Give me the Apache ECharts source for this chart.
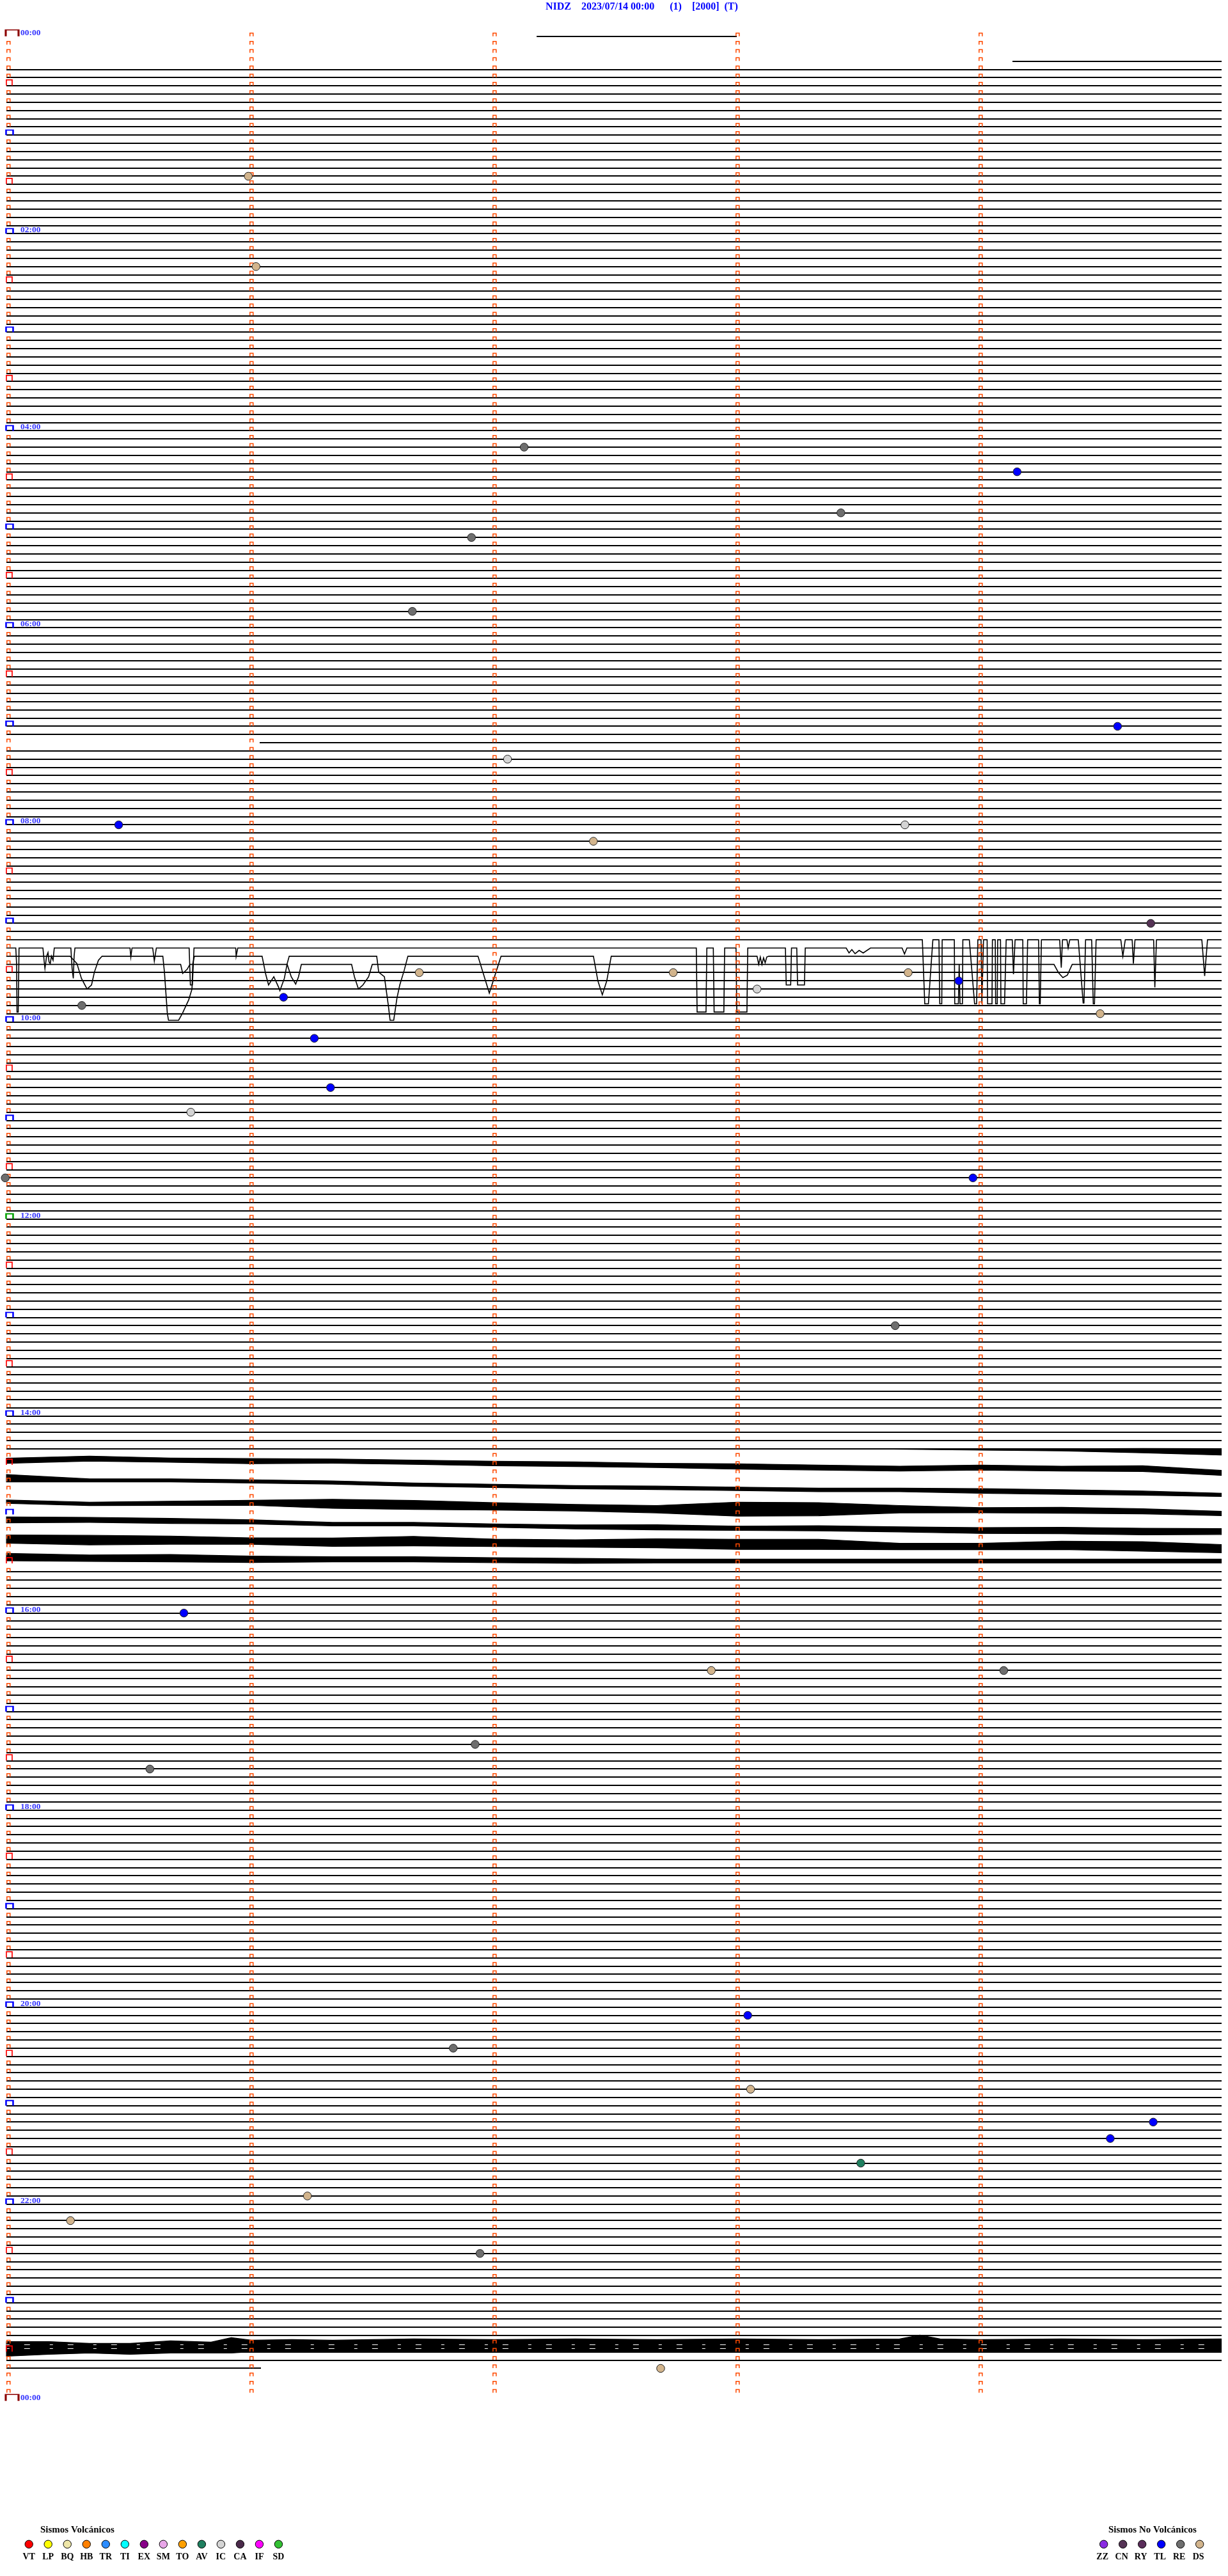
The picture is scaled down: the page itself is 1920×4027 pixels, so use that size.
<!DOCTYPE html>
<html>
<head>
<meta charset="utf-8">
<title>NIDZ helicorder</title>
<script src="https://cdn.jsdelivr.net/npm/echarts@6.0.0/dist/echarts.min.js"></script>
<style>
html,body{margin:0;padding:0;background:#ffffff;}
#chart{width:1920px;height:4027px;}
</style>
</head>
<body>
<div id="chart"></div>
<script>
// ---------------- DATA ----------------
const titleText = 'NIDZ    2023/07/14 00:00      (1)    [2000]  (T)';
const hourLabels = ['00:00','02:00','04:00','06:00','08:00','10:00','12:00','14:00','16:00','18:00','20:00','22:00','00:00'];
const hourLabelRows = [0,24,48,72,96,120,144,168,192,216,240,264,288];
const noonRow = 144;
// each row = 5 minutes (300 s); x value = seconds inside the row
const rowStartSec = -0.55;
const rowEndSec = 299.45;
const minuteMarkSec = [0,60,120,180,240];
// rows drawn as plain flat traces over the whole row
const fullRowRanges = [[4,85],[87,109],[114,172],[187,283]];
// partial rows: [row, startSec, endSec]
const partialRowSegments = [[0,130.3,179.8],[3,247.9,299.45],[86,62.0,299.45],[284,-0.55,62.3]];

// 09:10 - 09:25 saturated trace rows: [sec, downward displacement in rows]
const wave110 = [[-0.55,0],[225.6,0],[226.2,7.8],[227.1,7.8],[228.2,0],[229.7,0],[229.9,7.8],[230.4,7.8],[230.5,0],[233.5,0],[233.6,7.8],[234.5,7.8],[234.7,3],[234.9,7.8],[235.5,7.8],[235.6,0],[237.2,0],[238.5,7.8],[239.0,7.8],[239.3,0],[240.1,0],[240.3,7.8],[240.7,0],[241.6,0],[241.7,7.8],[242.8,7.8],[242.9,0],[243.6,0],[243.7,7.8],[244.1,7.8],[244.2,0],[244.9,0],[245.0,7.8],[245.9,7.8],[246.3,0],[247.8,0],[248.1,4.2],[248.5,0],[250.4,0],[250.5,7.8],[251.3,7.8],[251.6,0],[254.3,0],[254.5,7.8],[254.7,7.8],[255.0,0],[259.5,0],[259.9,3.4],[260.2,0],[261.3,0],[261.6,1.0],[262.0,0],[264.1,0],[265.3,7.7],[265.5,7.7],[265.9,0],[267.4,0],[267.8,7.8],[268.1,7.8],[268.5,0],[274.6,0],[275.1,2.0],[275.7,0],[277.4,0],[277.7,2.9],[278.1,0],[282.7,0],[283.0,5.8],[283.4,0],[294.6,0],[295.3,4.4],[296.0,0],[299.45,0]];
const wave111 = [[-0.55,0],[1.8,0],[2.0,2],[2.1,7.8],[2.4,7.8],[2.6,0],[8.5,0],[8.8,1.6],[9.0,2.5],[9.4,1.0],[9.75,0.55],[10.0,1.7],[10.3,1.9],[10.6,1.0],[11.0,1.5],[11.3,0],[15.4,0],[15.7,2.5],[16.0,3.7],[16.2,1.0],[16.4,0],[30.0,0],[30.2,1.1],[30.5,0],[35.6,0],[36.0,1.6],[36.5,0],[44.6,0],[44.9,4.5],[45.4,4.5],[45.8,0],[56.1,0],[56.2,1.0],[56.6,0],[169.8,0],[170.0,7.8],[172.2,7.8],[172.4,0],[174.0,0],[174.2,7.8],[176.6,7.8],[176.8,0],[179.6,0],[179.8,7.8],[182.3,7.8],[182.5,0],[191.8,0],[192.0,4.5],[193.1,4.5],[193.3,0],[194.6,0],[194.8,4.5],[196.5,4.5],[196.7,0],[206.8,0],[207.5,0.6],[208.2,0.2],[209.0,0.7],[210.0,0.3],[211.0,0.6],[212.8,0],[220.6,0],[221.2,0.73],[221.8,0],[299.45,0]];
const wave112 = [[-0.55,0],[15.2,0],[16.9,0.9],[18.0,2.7],[19.4,4.0],[20.5,3.5],[21.2,1.95],[22.2,0.5],[23.1,0],[38.1,0],[38.5,1.95],[39.2,6.9],[39.5,7.8],[42.0,7.8],[43.0,6.9],[44.5,5.3],[45.3,4.0],[45.5,0.9],[45.9,0],[62.6,0],[63.5,2.2],[64.2,3.5],[65.5,2.5],[66.7,3.8],[67.0,4.2],[68.1,2.7],[68.8,0.9],[69.3,0],[90.9,0],[91.4,1.95],[92.8,2.5],[93.8,6.1],[94.2,7.8],[95.1,7.8],[95.9,5.1],[96.6,3.5],[97.7,1.7],[98.6,0],[115.9,0],[118.7,4.5],[121.6,0],[144.4,0],[145.5,3.0],[146.6,4.7],[147.7,3.0],[148.8,0],[184.8,0],[185.2,1.0],[185.6,0.1],[186.0,1.0],[186.4,0.2],[186.8,0.8],[187.2,0.1],[187.7,0],[299.45,0]];
const wave113 = [[-0.55,0],[42.5,0],[43.0,1.1],[44.1,0.6],[44.8,0],[68.8,0],[69.8,1.5],[70.9,2.4],[71.6,1.5],[72.3,0],[84.7,0],[85.4,1.5],[86.4,3.0],[87.5,2.5],[88.9,1.5],[89.8,0],[258.1,0],[259.2,1.0],[260.3,1.6],[261.4,1.3],[262.6,0],[299.45,0]];
const waveRows = [110,111,112,113];

// 14:00 - 15:30 noisy traces: centre row and half thickness (rows) sampled along the row
const noiseSec14 = [-0.5,20,40,60,80,100,120,140,160,180,200,220,240,260,280,299.4];
const noiseAMid  = [173.45,173.19,173.38,173.50,173.50,173.63,173.79,173.87,174.02,174.15,174.28,174.41,174.28,174.41,174.41,174.93];
const noiseAHalf = [0.31,0.31,0.26,0.31,0.26,0.26,0.28,0.28,0.26,0.33,0.30,0.30,0.30,0.30,0.35,0.30];
const noiseBMid  = [175.58,175.84,175.84,175.97,176.10,176.36,176.51,176.67,176.75,176.88,177.00,177.00,177.13,177.26,177.39,177.60];
const noiseBHalf = [0.45,0.18,0.18,0.20,0.20,0.20,0.20,0.20,0.21,0.21,0.22,0.22,0.28,0.28,0.25,0.20];
const noiseCMid  = [178.44,178.70,178.64,178.57,178.70,178.83,179.01,179.17,179.35,179.35,179.35,179.35,179.48,179.48,179.61,179.87];
const noiseCHalf = [0.21,0.21,0.26,0.31,0.55,0.55,0.45,0.40,0.45,0.85,0.80,0.45,0.31,0.36,0.31,0.26];
const noiseDMid  = [180.65,180.65,180.78,180.90,181.17,181.17,181.35,181.51,181.56,181.68,181.68,181.81,181.95,181.95,182.07,182.07];
const noiseDHalf = [0.36,0.31,0.31,0.26,0.21,0.21,0.21,0.25,0.31,0.26,0.31,0.31,0.36,0.40,0.40,0.36];
const noiseEMid  = [182.99,183.12,183.12,183.24,183.37,183.24,183.45,183.53,183.51,183.63,183.63,183.89,183.89,183.76,183.89,184.15];
const noiseEHalf = [0.50,0.58,0.50,0.39,0.50,0.58,0.45,0.45,0.55,0.62,0.62,0.39,0.39,0.50,0.58,0.50];
const noiseFMid  = [185.19,185.32,185.32,185.46,185.46,185.46,185.56,185.64,185.67,185.67,185.67,185.67,185.67,185.67,185.67,185.67];
const noiseFHalf = [0.45,0.39,0.45,0.39,0.31,0.31,0.30,0.30,0.23,0.23,0.23,0.23,0.23,0.23,0.23,0.23];
// row 172, onset of noise at the end of the row
const noise172Sec  = [215,240,260,280,299.4];
const noise172Mid  = [172.0,172.08,172.12,172.22,172.37];
const noise172Half = [0.02,0.08,0.13,0.27,0.39];
// 23:25 saturated band (row 281): upper and lower edge rows
const band23Sec   = [-0.5,10,20,30,40,50,55,60,70,80,90,100,120,140,160,180,200,220,225,230,240,260,280,299.4];
const band23Upper = [280.73,280.73,280.96,280.96,280.65,280.80,280.26,280.57,280.49,280.57,280.49,280.41,280.49,280.41,280.49,280.41,280.49,280.41,279.95,280.41,280.49,280.41,280.49,280.41];
const band23Lower = [282.52,282.28,282.13,282.28,282.13,282.13,282.13,281.97,282.05,281.97,281.97,281.89,281.97,281.89,281.97,281.97,281.97,281.97,281.97,281.97,281.97,281.97,281.97,281.97];
const band23GapRows = [281.1,281.55];

// classified events
const eventSec  = [59.2,61.1,127.3,249.0,205.5,114.3,99.7,273.8,123.2,27.2,221.3,144.4,282.0,101.4,164.1,222.1,184.8,234.6,18.1,67.9,269.5,75.5,79.5,45.0,-0.8,238.1,218.9,43.3,173.5,245.7,115.2,34.9,182.5,109.8,183.2,282.6,272.0,210.4,73.8,15.3,116.4,161.0];
const eventRow  = [17,28,50,53,58,61,70,84,88,96,96,98,108,114,114,114,116,115,118,117,119,122,128,131,139,139,157,192,199,199,208,211,241,245,250,254,256,259,263,266,270,284];
const eventType = ['DS','DS','RE','TL','RE','RE','RE','TL','IC','TL','IC','DS','CN','DS','DS','DS','IC','TL','RE','TL','DS','TL','TL','IC','RE','TL','RE','TL','DS','RE','RE','RE','TL','RE','DS','TL','TL','AV','DS','DS','RE','DS'];

// legend categories
const volcanicTypes  = ['VT','LP','BQ','HB','TR','TI','EX','SM','TO','AV','IC','CA','IF','SD'];
const volcanicColors = ['#ff0000','#ffff00','#eee6a8','#ff8000','#2b8cff','#00ffff','#880088','#e8a6e8','#ffa000','#1f7f5f','#d4d4d4','#4a2a4a','#ff00ff','#33c033'];
const nonVolcanicTypes  = ['ZZ','CN','RY','TL','RE','DS'];
const nonVolcanicColors = ['#8a2be2','#553355','#5a2d5a','#0000ff','#6e6e6e','#d2b48c'];

// ---------------- BUILD ----------------
const serifFont = '"Liberation Serif", "Times New Roman", serif';
const typeColor = {};
volcanicTypes.forEach((t, i) => { typeColor[t] = volcanicColors[i]; });
nonVolcanicTypes.forEach((t, i) => { typeColor[t] = nonVolcanicColors[i]; });

const flatSegments = [];
fullRowRanges.forEach(([a, b]) => { for (let r = a; r <= b; r++) flatSegments.push([rowStartSec, r, rowEndSec]); });
partialRowSegments.forEach(([r, s0, s1]) => flatSegments.push([s0, r, s1]));

const waves = [wave110, wave111, wave112, wave113];
const waveLines = waves.map((w, i) => ({ coords: w.map(([s, d]) => [s, waveRows[i] + d]) }));

function midHalf(sec, mid, half) {
  return { sec: sec, top: mid.map((m, i) => m - half[i]), bottom: mid.map((m, i) => m + half[i]) };
}
const noisePolys = [
  midHalf(noiseSec14, noiseAMid, noiseAHalf),
  midHalf(noiseSec14, noiseBMid, noiseBHalf),
  midHalf(noiseSec14, noiseCMid, noiseCHalf),
  midHalf(noiseSec14, noiseDMid, noiseDHalf),
  midHalf(noiseSec14, noiseEMid, noiseEHalf),
  midHalf(noiseSec14, noiseFMid, noiseFHalf),
  midHalf(noise172Sec, noise172Mid, noise172Half),
  { sec: band23Sec, top: band23Upper, bottom: band23Lower }
];
const bandGapLines = band23GapRows.map(r => ({ coords: [[rowStartSec, r], [rowEndSec, r]] }));

const markerSmall = [], markerHalf = [], markerHour = [], markerNoon = [], markerDay = [];
for (let r = 0; r <= 288; r++) {
  minuteMarkSec.forEach(s => {
    if (s === 0) {
      if (r === 0 || r === 288) markerDay.push([s, r]);
      else if (r === noonRow) markerNoon.push([s, r]);
      else if (r % 12 === 0) markerHour.push([s, r]);
      else if (r % 6 === 0) markerHalf.push([s, r]);
      else markerSmall.push([s, r]);
    } else if (r < 288) {
      markerSmall.push([s, r]);
    }
  });
}
const bracketPath = 'path://M0,10L0,0L10,0L10,10';
function markerSeries(data, size, offset, color, width) {
  return {
    type: 'scatter', data: data, symbol: bracketPath, symbolSize: size, symbolOffset: offset,
    itemStyle: { color: 'rgba(0,0,0,0)', borderColor: color, borderWidth: width, opacity: 1 },
    silent: true, z: 5, clip: false
  };
}

const eventData = eventSec.map((s, i) => ({ value: [s, eventRow[i]], itemStyle: { color: typeColor[eventType[i]] } }));

// legend graphics
const legendEls = [];
legendEls.push({ type: 'text', left: 63, top: 3948, style: { text: 'Sismos Volcánicos', font: 'bold 15px ' + serifFont, fill: '#000' } });
volcanicTypes.forEach((t, i) => {
  const cx = 45.2 + i * 30.02;
  legendEls.push({ type: 'circle', shape: { cx: cx, cy: 3977.3, r: 6.2 }, style: { fill: volcanicColors[i], stroke: '#000', lineWidth: 1 } });
  legendEls.push({ type: 'text', x: cx, y: 3997, style: { text: t, font: 'bold 14px ' + serifFont, fill: '#000', align: 'center', verticalAlign: 'middle', textAlign: 'center', textVerticalAlign: 'middle' } });
});
legendEls.push({ type: 'text', left: 1733, top: 3948, style: { text: 'Sismos No Volcánicos', font: 'bold 15px ' + serifFont, fill: '#000' } });
nonVolcanicTypes.forEach((t, i) => {
  const cx = 1725.7 + i * 30;
  legendEls.push({ type: 'circle', shape: { cx: cx, cy: 3977.3, r: 6.2 }, style: { fill: nonVolcanicColors[i], stroke: '#000', lineWidth: 1 } });
  legendEls.push({ type: 'text', x: cx - 2, y: 3997, style: { text: t, font: 'bold 14px ' + serifFont, fill: '#000', align: 'center', verticalAlign: 'middle', textAlign: 'center', textVerticalAlign: 'middle' } });
});

const chart = echarts.init(document.getElementById('chart'), null, { renderer: 'canvas', devicePixelRatio: 1 });
chart.setOption({
  animation: false,
  backgroundColor: '#ffffff',
  title: {
    text: titleText, left: 853, top: 3, padding: 0,
    textStyle: { color: '#0000ff', fontSize: 16, fontWeight: 'bold', fontFamily: serifFont }
  },
  grid: { left: 9.8, top: 57.3, width: 1900, height: 3696.5, show: false },
  xAxis: { type: 'value', min: rowStartSec, max: rowEndSec, show: false },
  yAxis: { type: 'value', min: 0, max: 288, inverse: true, show: false },
  graphic: { elements: legendEls },
  series: [
    // flat row traces, snapped to the pixel grid
    { type: 'custom', coordinateSystem: 'cartesian2d', data: flatSegments, silent: true, z: 2, clip: false,
      encode: { x: 0, y: 1 },
      renderItem: function (params, api) {
        const p0 = api.coord([api.value(0), api.value(1)]);
        const p1 = api.coord([api.value(2), api.value(1)]);
        const y = Math.round(p0[1]);
        return { type: 'line', shape: { x1: Math.round(p0[0]), y1: y, x2: Math.round(p1[0]), y2: y },
          style: { stroke: '#000', lineWidth: 2 } };
      } },
    { type: 'lines', coordinateSystem: 'cartesian2d', polyline: true, data: waveLines,
      lineStyle: { color: '#000', width: 1.6, opacity: 1 }, silent: true, z: 3, clip: false },
    { type: 'custom', coordinateSystem: 'cartesian2d', data: noisePolys.map((p, i) => [i, 0]), silent: true, z: 3, clip: false,
      renderItem: function (params, api) {
        const p = noisePolys[params.dataIndex];
        const pts = [];
        for (let i = 0; i < p.sec.length; i++) pts.push(api.coord([p.sec[i], p.top[i]]));
        for (let i = p.sec.length - 1; i >= 0; i--) pts.push(api.coord([p.sec[i], p.bottom[i]]));
        return { type: 'polygon', shape: { points: pts }, style: { fill: '#000', stroke: '#000', lineWidth: 1.2 } };
      } },
    { type: 'lines', coordinateSystem: 'cartesian2d', polyline: false, data: bandGapLines,
      lineStyle: { color: '#fff', width: 1, opacity: 1, type: [5, 23, 9, 31] }, silent: true, z: 4, clip: false },
    markerSeries(markerSmall, [5, 5], [0, -3], '#ff4a00', 1.5),
    markerSeries(markerHalf, [9, 9], [1.2, -5], '#ff0000', 1.7),
    markerSeries(markerHour, [11, 8], [1.7, -4], '#0000ff', 2.2),
    markerSeries(markerNoon, [11, 8], [1.7, -4], '#00a000', 2.2),
    markerSeries(markerDay, [20, 10], [5.7, -5.5], '#8b0000', 2.2),
    { type: 'scatter', data: hourLabelRows.map(r => [0, r]), symbolSize: 1, silent: true, z: 6, clip: false,
      itemStyle: { color: 'rgba(0,0,0,0)' },
      label: { show: true, position: 'right', distance: 18.2, offset: [0, -5.5],
        formatter: p => hourLabels[p.dataIndex],
        color: '#0000ff', fontFamily: serifFont, fontWeight: 'bold', fontSize: 13.5 } },
    { type: 'scatter', data: eventData, symbol: 'circle', symbolSize: 12.5, silent: true, z: 7, clip: false,
      itemStyle: { borderColor: '#222', borderWidth: 1, opacity: 1 } }
  ]
});
</script>
</body>
</html>
